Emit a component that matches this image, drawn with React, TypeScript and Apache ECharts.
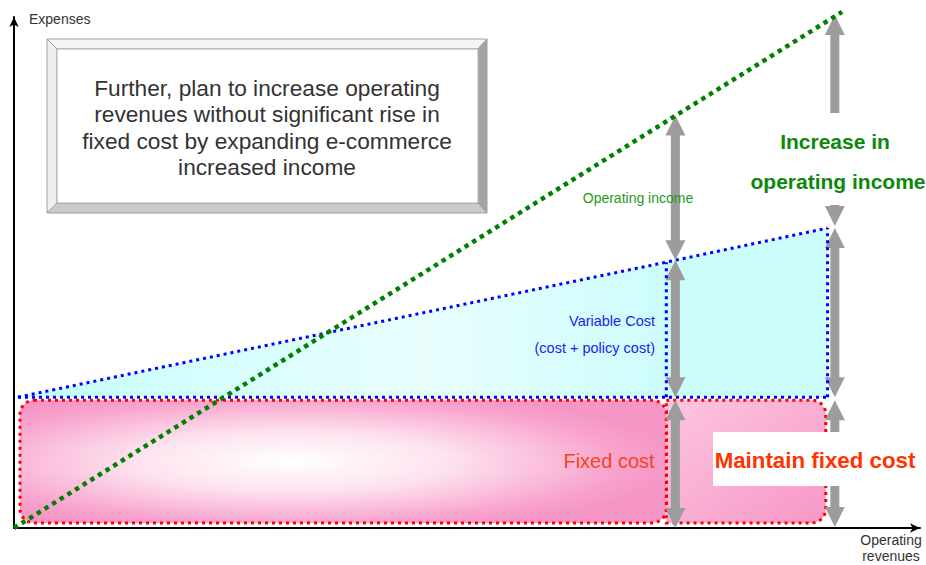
import React, { useEffect, useRef } from "react";
import * as echarts from "echarts";

// ---- data (chart units: revenue 0..100 on x, expenses 0..100 on y) ----
const revenueX = [0, 91.4];
const revenueY = [0, 101];

const fixedCost = 25.6;
const costX = [0.44, 73, 89.8];
const costY = [25.6, 52.4, 58.7];

const fixedLineX = [0.44, 89.8];
const currentCutX = 72.0;
const currentCutTop = 52.0;
const futureCutX = 89.8;
const futureCutTop = 58.7;

// fixed cost blocks: [x0, x1, y0, y1]
const blockX0 = [72.0, 0.66];
const blockX1 = [89.6, 72.0];
const blockY0 = [1.0, 1.0];
const blockY1 = [25.0, 25.0];

// gray arrows
const arrowX = [73, 73, 73, 90.6, 90.6, 90.6, 90.6];
const arrowTop = [80.7, 52.4, 25.0, 100.4, 63.2, 58.7, 25.0];
const arrowBottom = [52.4, 25.6, 0, 81.2, 59.1, 25.6, 0.2];
const arrowHeadTop = [1, 1, 1, 1, 0, 1, 1];
const arrowHeadBottom = [1, 1, 1, 0, 1, 1, 1];

const boxLines = [
  "Further, plan to increase operating",
  "revenues without significant rise in",
  "fixed cost by expanding e-commerce",
  "increased income",
];

const FONT = "'Liberation Sans', Arial, sans-serif";

export default function App() {
  const ref = useRef<HTMLDivElement>(null);

  useEffect(() => {
    if (!ref.current) return;
    const chart = echarts.init(ref.current, undefined, { renderer: "svg" });

    const zip = (a: number[], b: number[]) => a.map((v, i) => [v, b[i]]);

    const blockData = blockX0.map((v, i) => [v, blockX1[i], blockY0[i], blockY1[i], i]);
    const arrowData = arrowX.map((v, i) => [v, arrowTop[i], arrowBottom[i], arrowHeadTop[i], arrowHeadBottom[i]]);

    const pinkRadial = {
      type: "radial",
      x: 0.42,
      y: 0.5,
      r: 0.6,
      colorStops: [
        { offset: 0, color: "#ffffff" },
        { offset: 0.4, color: "#fde3ef" },
        { offset: 0.85, color: "#f8a2cd" },
        { offset: 1, color: "#f596c6" },
      ],
    };
    const pinkLinear = {
      type: "linear",
      x: 0,
      y: 0,
      x2: 1,
      y2: 1,
      colorStops: [
        { offset: 0, color: "#fcc6df" },
        { offset: 1, color: "#f797c6" },
      ],
    };

    const dotted = (color: string, w: number, d: number[]) => ({
      color,
      width: w,
      type: d,
      cap: "butt",
    });

    const option: any = {
      animation: false,
      backgroundColor: "#ffffff",
      grid: { left: 14, right: 6, top: 17, bottom: 37 },
      xAxis: {
        type: "value",
        min: 0,
        max: 100,
        axisLine: {
          show: true,
          symbol: ["none", "arrow"],
          symbolSize: [7, 10],
          lineStyle: { color: "#000", width: 2 },
        },
        axisTick: { show: false },
        axisLabel: { show: false },
        splitLine: { show: false },
      },
      yAxis: {
        type: "value",
        min: 0,
        max: 100,
        axisLine: {
          show: true,
          symbol: ["none", "arrow"],
          symbolSize: [7, 10],
          lineStyle: { color: "#000", width: 2 },
        },
        axisTick: { show: false },
        axisLabel: { show: false },
        splitLine: { show: false },
      },
      series: [
        {
          type: "custom",
          name: "Fixed cost",
          z: 1,
          clip: false,
          encode: { x: [0, 1], y: [2, 3] },
          data: blockData,
          renderItem: (params: any, api: any) => {
            const p0 = api.coord([api.value(0), api.value(3)]);
            const p1 = api.coord([api.value(1), api.value(2)]);
            const idx = api.value(4);
            return {
              type: "rect",
              shape: {
                x: p0[0],
                y: p0[1],
                width: p1[0] - p0[0],
                height: p1[1] - p0[1],
                r: idx === 0 ? [0, 14, 14, 0] : 14,
              },
              style: {
                fill: idx === 0 ? pinkLinear : pinkRadial,
                stroke: "#ff0000",
                lineWidth: 3,
                lineDash: [3, 4],
              },
            };
          },
        },
        {
          type: "line",
          name: "Variable cost area",
          z: 2,
          data: zip(costX, costY),
          symbol: "none",
          lineStyle: dotted("#0000ff", 3, [3, 4]),
          areaStyle: {
            origin: fixedCost,
            opacity: 1,
            color: {
              type: "linear",
              x: 0,
              y: 0,
              x2: 1,
              y2: 0,
              colorStops: [
                { offset: 0, color: "#c4fdfd" },
                { offset: 0.5, color: "#eafefe" },
                { offset: 0.8, color: "#cdfcfc" },
                { offset: 1, color: "#ccfcfc" },
              ],
            },
          },
        },
        {
          type: "custom",
          name: "Arrows",
          z: 3,
          clip: false,
          encode: { x: 0, y: [1, 2] },
          data: arrowData,
          renderItem: (params: any, api: any) => {
            const top = api.coord([api.value(0), api.value(1)]);
            const bot = api.coord([api.value(0), api.value(2)]);
            const cx = top[0];
            const t = top[1];
            const b = bot[1];
            const hu = api.value(3);
            const hd = api.value(4);
            const sw = 4.5;
            const hw = 10;
            const hl = Math.min(20, b - t);
            const pts: number[][] = [];
            if (hu) {
              pts.push([cx, t], [cx + hw, t + hl], [cx + sw, t + hl]);
            } else {
              pts.push([cx - sw, t], [cx + sw, t]);
            }
            if (hd) {
              pts.push([cx + sw, b - hl], [cx + hw, b - hl], [cx, b], [cx - hw, b - hl], [cx - sw, b - hl]);
            } else {
              pts.push([cx + sw, b], [cx - sw, b]);
            }
            if (hu) {
              pts.push([cx - sw, t + hl], [cx - hw, t + hl]);
            }
            return {
              type: "polygon",
              shape: { points: pts },
              style: { fill: "#9c9c9c" },
            };
          },
        },
        {
          type: "line",
          name: "Fixed cost line",
          z: 4,
          data: zip(fixedLineX, [fixedCost, fixedCost]),
          symbol: "none",
          lineStyle: dotted("#0000ff", 3, [3, 4]),
        },
        {
          type: "line",
          name: "Current cut",
          z: 4,
          data: [
            [currentCutX, fixedCost],
            [currentCutX, currentCutTop],
          ],
          symbol: "none",
          lineStyle: dotted("#0000ff", 3, [3, 4]),
        },
        {
          type: "line",
          name: "Future cut",
          z: 4,
          data: [
            [futureCutX, fixedCost],
            [futureCutX, futureCutTop],
          ],
          symbol: "none",
          lineStyle: dotted("#0000ff", 3, [3, 4]),
        },
        {
          type: "line",
          name: "Operating revenues",
          z: 5,
          clip: false,
          data: zip(revenueX, revenueY),
          symbol: "none",
          lineStyle: dotted("#008000", 4.5, [4.5, 4.5]),
        },
      ],
      graphic: [
        // bevelled box
        {
          type: "polygon",
          z: 50,
          shape: { points: [[47, 39], [487, 39], [478, 49], [57, 49]] },
          style: { fill: "#f4f4f4", stroke: "#a0a0a0", lineWidth: 1 },
        },
        {
          type: "polygon",
          z: 50,
          shape: { points: [[47, 39], [57, 49], [57, 203], [47, 213]] },
          style: { fill: "#efefef", stroke: "#a0a0a0", lineWidth: 1 },
        },
        {
          type: "polygon",
          z: 50,
          shape: { points: [[487, 39], [487, 213], [478, 203], [478, 49]] },
          style: { fill: "#a4a4a4", stroke: "#a0a0a0", lineWidth: 1 },
        },
        {
          type: "polygon",
          z: 50,
          shape: { points: [[47, 213], [487, 213], [478, 203], [57, 203]] },
          style: { fill: "#cacaca", stroke: "#a0a0a0", lineWidth: 1 },
        },
        {
          type: "rect",
          z: 50,
          shape: { x: 57, y: 49, width: 421, height: 154 },
          style: { fill: "#ffffff", stroke: "#b0b0b0", lineWidth: 1 },
        },
        ...boxLines.map((t, i) => ({
          type: "text",
          z: 60,
          x: 267,
          y: 88 + i * 26.3,
          style: {
            text: t,
            fill: "#333333",
            fontSize: 22.7,
            fontFamily: FONT,
            align: "center",
            verticalAlign: "middle",
          },
        })),
        // axis titles
        {
          type: "text",
          z: 60,
          x: 29,
          y: 19,
          style: { text: "Expenses", fill: "#333", fontSize: 14, fontFamily: FONT, verticalAlign: "middle" },
        },
        {
          type: "text",
          z: 60,
          x: 891,
          y: 540,
          style: { text: "Operating", fill: "#333", fontSize: 14, fontFamily: FONT, align: "center", verticalAlign: "middle" },
        },
        {
          type: "text",
          z: 60,
          x: 891,
          y: 556,
          style: { text: "revenues", fill: "#333", fontSize: 14, fontFamily: FONT, align: "center", verticalAlign: "middle" },
        },
        // labels
        {
          type: "text",
          z: 60,
          x: 638,
          y: 198,
          style: { text: "Operating income", fill: "#1f9a1f", fontSize: 14, fontFamily: FONT, align: "center", verticalAlign: "middle" },
        },
        {
          type: "text",
          z: 60,
          x: 835,
          y: 141,
          style: { text: "Increase in", fill: "#0c880c", fontSize: 21, fontWeight: "bold", fontFamily: FONT, align: "center", verticalAlign: "middle" },
        },
        {
          type: "text",
          z: 60,
          x: 838,
          y: 181,
          style: { text: "operating income", fill: "#0c880c", fontSize: 21, fontWeight: "bold", fontFamily: FONT, align: "center", verticalAlign: "middle" },
        },
        {
          type: "text",
          z: 60,
          x: 655,
          y: 321,
          style: { text: "Variable Cost", fill: "#1c1cf0", fontSize: 14.5, fontFamily: FONT, align: "right", verticalAlign: "middle" },
        },
        {
          type: "text",
          z: 60,
          x: 655,
          y: 348,
          style: { text: "(cost + policy cost)", fill: "#1c1cf0", fontSize: 14.5, fontFamily: FONT, align: "right", verticalAlign: "middle" },
        },
        {
          type: "text",
          z: 60,
          x: 609,
          y: 461,
          style: { text: "Fixed cost", fill: "#f5441c", fontSize: 20, fontFamily: FONT, align: "center", verticalAlign: "middle" },
        },
        {
          type: "rect",
          z: 55,
          shape: { x: 713, y: 432, width: 205, height: 54 },
          style: { fill: "#ffffff" },
        },
        {
          type: "text",
          z: 60,
          x: 815,
          y: 460,
          style: { text: "Maintain fixed cost", fill: "#ff3300", fontSize: 22.3, fontWeight: "bold", fontFamily: FONT, align: "center", verticalAlign: "middle" },
        },
      ],
    };

    chart.setOption(option);
    return () => chart.dispose();
  }, []);

  return (
    <div
      ref={ref}
      style={{ position: "fixed", left: 0, top: 0, width: 926, height: 565 }}
    />
  );
}
